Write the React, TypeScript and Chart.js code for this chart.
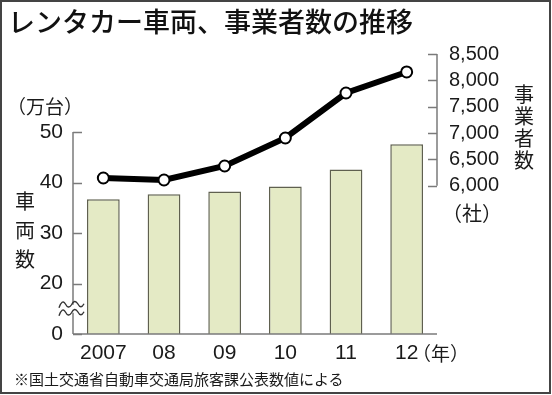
import React, { useEffect, useRef } from "react";
import { Chart, registerables } from "chart.js";

Chart.register(...registerables);

const categories = ["2007", "08", "09", "10", "11", "12"];
const vehicles = [36.7, 37.7, 38.2, 39.2, 42.6, 47.6]; // 万台
const operators = [6146, 6108, 6374, 6905, 7760, 8159]; // 社
const leftTickValues = [10, 20, 30, 40, 50];
const leftTickLabels = ["0", "20", "30", "40", "50"];
const rightTickValues = [6000, 6500, 7000, 7500, 8000, 8500];
const rightTickLabels = ["6,000", "6,500", "7,000", "7,500", "8,000", "8,500"];

const NUM_FONT = "'Liberation Sans Narrow', 'Liberation Sans', Arial, sans-serif";
const JP_FONT = "'Noto Sans CJK JP', 'Noto Sans', sans-serif";
const AXIS_COLOR = "#7a7a7a";

const axesPlugin = {
  id: "customAxes",
  beforeDatasetsDraw(chart: any) {
    const { ctx, chartArea } = chart;
    const y = chart.scales.y;
    const y1 = chart.scales.y1;
    ctx.save();
    ctx.strokeStyle = AXIS_COLOR;
    ctx.lineWidth = 1.5;
    const L = chartArea.left;
    const R = chartArea.right;
    const B = chartArea.bottom;
    ctx.beginPath();
    ctx.moveTo(L, y.getPixelForValue(50));
    ctx.lineTo(L, B);
    ctx.stroke();
    leftTickValues.forEach((v) => {
      const py = Math.round(y.getPixelForValue(v)) + 0.5;
      ctx.beginPath();
      ctx.moveTo(L, py);
      ctx.lineTo(L + 9, py);
      ctx.stroke();
    });
    ctx.beginPath();
    ctx.moveTo(R, y1.getPixelForValue(8500));
    ctx.lineTo(R, y1.getPixelForValue(6000));
    ctx.stroke();
    rightTickValues.forEach((v) => {
      const py = Math.round(y1.getPixelForValue(v)) + 0.5;
      ctx.beginPath();
      ctx.moveTo(R - 9, py);
      ctx.lineTo(R, py);
      ctx.stroke();
    });
    ctx.restore();
  },
  afterDraw(chart: any) {
    const { ctx, chartArea } = chart;
    const y = chart.scales.y;
    const L = chartArea.left;
    const B = chartArea.bottom;
    ctx.save();
    ctx.strokeStyle = AXIS_COLOR;
    ctx.lineWidth = 1.5;
    ctx.beginPath();
    ctx.moveTo(L, B);
    ctx.lineTo(chartArea.right, B);
    ctx.stroke();
    // axis break symbol
    const yc = y.getPixelForValue(15);
    const x0 = L - 14;
    const w = 25;
    const wave = (off: number) => {
      ctx.moveTo(x0, yc + off + 3);
      ctx.quadraticCurveTo(x0 + w * 0.125, yc + off - 6, x0 + w * 0.25, yc + off - 1);
      ctx.quadraticCurveTo(x0 + w * 0.375, yc + off + 5, x0 + w * 0.5, yc + off);
      ctx.quadraticCurveTo(x0 + w * 0.625, yc + off - 6, x0 + w * 0.75, yc + off - 1);
      ctx.quadraticCurveTo(x0 + w * 0.875, yc + off + 5, x0 + w, yc + off - 1);
    };
    ctx.fillStyle = "#ffffff";
    ctx.fillRect(L - 3, yc - 4, 6, 8);
    ctx.strokeStyle = "#333333";
    ctx.lineWidth = 1.4;
    ctx.beginPath();
    wave(-4);
    ctx.stroke();
    ctx.beginPath();
    wave(4);
    ctx.stroke();
    ctx.restore();
  },
};

export default function App() {
  const canvasRef = useRef<HTMLCanvasElement | null>(null);

  useEffect(() => {
    if (!canvasRef.current) return;
    const chart = new Chart(canvasRef.current, {
      type: "bar",
      data: {
        labels: categories,
        datasets: [
          {
            type: "line",
            label: "事業者数",
            data: operators,
            yAxisID: "y1",
            borderColor: "#000000",
            borderWidth: 6,
            tension: 0,
            pointRadius: 5.5,
            pointBorderWidth: 2,
            pointBackgroundColor: "#ffffff",
            pointBorderColor: "#000000",
            order: 0,
          } as any,
          {
            type: "bar",
            label: "車両数",
            data: vehicles,
            yAxisID: "y",
            backgroundColor: "#e4eac5",
            borderColor: "#5f604f",
            borderWidth: 1.5,
            barPercentage: 0.54,
            categoryPercentage: 1,
            order: 1,
          },
        ],
      },
      options: {
        animation: false,
        responsive: false,
        maintainAspectRatio: false,
        layout: { padding: { top: 54, left: 0, right: 0, bottom: 0 } },
        plugins: {
          legend: { display: false },
          tooltip: { enabled: false },
          title: { display: false },
        },
        scales: {
          x: {
            type: "category",
            offset: true,
            grid: { display: false, drawTicks: false },
            border: { display: false },
            ticks: {
              font: { family: NUM_FONT, size: 21 },
              color: "#1a1a1a",
              padding: 7,
              maxRotation: 0,
              autoSkip: false,
            },
            afterFit: (s: any) => {
              s.height = 61;
            },
          },
          y: {
            type: "linear",
            position: "left",
            min: 10,
            max: 65.45,
            grid: { display: false, drawTicks: false },
            border: { display: false },
            afterBuildTicks: (s: any) => {
              s.ticks = leftTickValues.map((v) => ({ value: v }));
            },
            ticks: {
              font: { family: NUM_FONT, size: 21 },
              color: "#1a1a1a",
              padding: 10,
              callback: (v: any) => leftTickLabels[leftTickValues.indexOf(Number(v))] ?? "",
            },
            afterFit: (s: any) => {
              s.width = 73;
            },
          },
          y1: {
            type: "linear",
            position: "right",
            min: 3184,
            max: 8500,
            grid: { display: false, drawTicks: false },
            border: { display: false },
            afterBuildTicks: (s: any) => {
              s.ticks = rightTickValues.map((v) => ({ value: v }));
            },
            ticks: {
              font: { family: NUM_FONT, size: 20 },
              color: "#1a1a1a",
              padding: 12,
              callback: (v: any) => rightTickLabels[rightTickValues.indexOf(Number(v))] ?? "",
            },
            afterFit: (s: any) => {
              s.width = 115;
            },
          },
        },
      },
      plugins: [axesPlugin],
    });
    return () => chart.destroy();
  }, []);

  const txt: React.CSSProperties = {
    position: "absolute",
    fontFamily: JP_FONT,
    color: "#1a1a1a",
    whiteSpace: "nowrap",
    margin: 0,
  };

  return (
    <div style={{ position: "absolute", left: 0, top: 0, width: 552, height: 395, background: "#fff", overflow: "hidden" }}>
      <canvas ref={canvasRef} width={552} height={395} style={{ position: "absolute", left: 0, top: 0, width: 552, height: 395 }} />
      <div style={{ ...txt, left: 8, top: 6, fontSize: 27, lineHeight: "30px", color: "#111", fontWeight: 500 }}>
        レンタカー車両、事業者数の推移
      </div>
      <div style={{ ...txt, left: 7, top: 94, fontSize: 19, lineHeight: "24px" }}>（万台）</div>
      <div style={{ ...txt, left: 15, top: 186, fontSize: 20, lineHeight: "29px", width: 20, whiteSpace: "normal", textAlign: "center" }}>
        車<br />両<br />数
      </div>
      <div style={{ ...txt, left: 514, top: 83, fontSize: 20, lineHeight: "22px", width: 20, whiteSpace: "normal", textAlign: "center" }}>
        事<br />業<br />者<br />数
      </div>
      <div style={{ ...txt, left: 442, top: 201, fontSize: 20, lineHeight: "24px" }}>（社）</div>
      <div style={{ ...txt, left: 412, top: 341, fontSize: 19, lineHeight: "24px" }}>（年）</div>
      <div style={{ ...txt, left: 14, top: 369, fontSize: 15, lineHeight: "20px" }}>
        ※国土交通省自動車交通局旅客課公表数値による
      </div>
      <div style={{ position: "absolute", left: 0, top: 0, width: 551, height: 394, boxSizing: "border-box", border: "2px solid #444", pointerEvents: "none" }} />
    </div>
  );
}
